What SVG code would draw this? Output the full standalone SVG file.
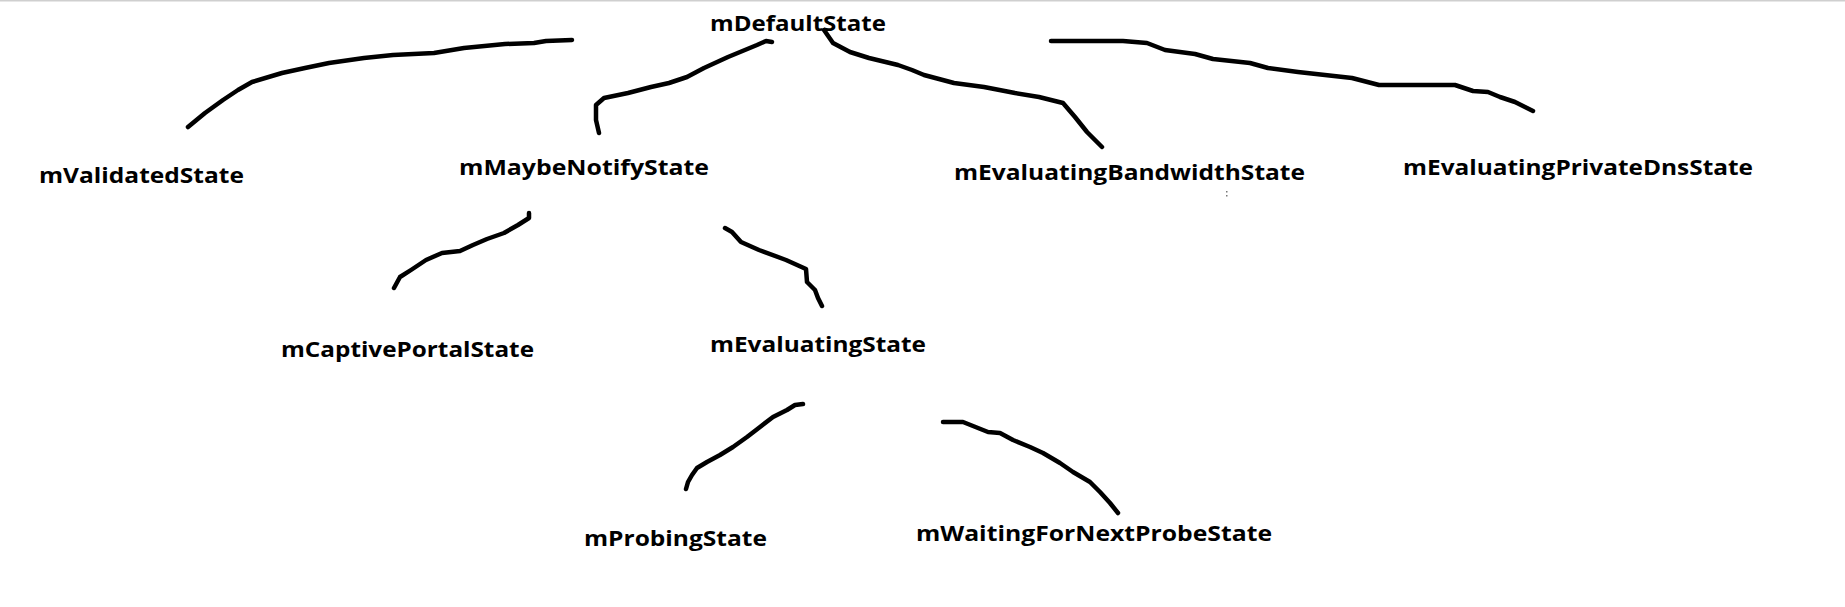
<svg xmlns="http://www.w3.org/2000/svg" width="1845" height="607" viewBox="0 0 1845 607">
<style>
.lbl{font-family:"Open Sans","Liberation Sans",sans-serif;font-weight:bold;font-size:21px;fill:#000}
.wire{fill:none;stroke:#000;stroke-width:4.5;stroke-linecap:round;stroke-linejoin:round}
</style>
<rect x="0" y="0" width="1845" height="607" fill="#fff"/>
<rect x="0" y="0" width="1845" height="1.5" fill="#cfcfcf"/>
<g id="connectors">
<path class="wire" d="M572,40 L546,41 L534,43 L505,44 L464,48 L434,53 L393,55 L364,58 L329,63 L305,68 L282,73 L252,82 L238,90 L223,100 L205,113 L188,127"/>
<path class="wire" d="M772,42 L766,41 L757,45 L728,57 L704,68 L687,77 L669,83 L651,87 L628,93 L604,98 L596,105 L596,120 L599,133"/>
<path class="wire" d="M824,30 L833,43 L850,52 L869,58 L898,65 L912,70 L924,75 L954,83 L984,87 L1015,93 L1039,97 L1063,103 L1075,117 L1087,132 L1102,147"/>
<path class="wire" d="M1051,41 L1123,41 L1147,43 L1165,50 L1195,54 L1213,59 L1250,63 L1268,68 L1298,72 L1352,78 L1379,85 L1455,85 L1473,91 L1488,92 L1500,97 L1515,102 L1533,111"/>
<path class="wire" d="M529,213 L529,218 L518,225 L504,233 L487,239 L473,245 L460,251 L442,253 L426,260 L411,270 L400,277 L394,288"/>
<path class="wire" d="M725,228 L732,232 L741,242 L759,250 L786,260 L806,269 L807,282 L815,290 L818,298 L822,306"/>
<path class="wire" d="M803,404 L795,405 L787,410 L773,417 L760,427 L747,437 L733,447 L720,455 L707,462 L697,468 L692,475 L688,482 L686,489"/>
<path class="wire" d="M943,422 L963,422 L978,428 L988,432 L1000,433 L1013,440 L1030,447 L1043,453 L1060,463 L1073,472 L1090,482 L1100,492 L1110,503 L1118,513"/>
</g>
<g id="mDefaultState"><text class="lbl" x="710" y="31" textLength="176" lengthAdjust="spacingAndGlyphs">mDefaultState</text></g>
<g id="mValidatedState"><text class="lbl" x="39" y="183" textLength="205" lengthAdjust="spacingAndGlyphs">mValidatedState</text></g>
<g id="mMaybeNotifyState"><text class="lbl" x="459" y="175" textLength="250" lengthAdjust="spacingAndGlyphs">mMaybeNotifyState</text></g>
<g id="mEvaluatingBandwidthState"><text class="lbl" x="954" y="180" textLength="351" lengthAdjust="spacingAndGlyphs">mEvaluatingBandwidthState</text>
<rect x="1226" y="191" width="1.5" height="1.5" fill="#777"/><rect x="1226" y="195" width="1.5" height="1.5" fill="#777"/></g>
<g id="mEvaluatingPrivateDnsState"><text class="lbl" x="1403" y="175" textLength="350" lengthAdjust="spacingAndGlyphs">mEvaluatingPrivateDnsState</text></g>
<g id="mCaptivePortalState"><text class="lbl" x="281" y="357" textLength="253" lengthAdjust="spacingAndGlyphs">mCaptivePortalState</text></g>
<g id="mEvaluatingState"><text class="lbl" x="710" y="352" textLength="216" lengthAdjust="spacingAndGlyphs">mEvaluatingState</text></g>
<g id="mProbingState"><text class="lbl" x="584" y="546" textLength="183" lengthAdjust="spacingAndGlyphs">mProbingState</text></g>
<g id="mWaitingForNextProbeState"><text class="lbl" x="916" y="541" textLength="356" lengthAdjust="spacingAndGlyphs">mWaitingForNextProbeState</text></g>
</svg>
